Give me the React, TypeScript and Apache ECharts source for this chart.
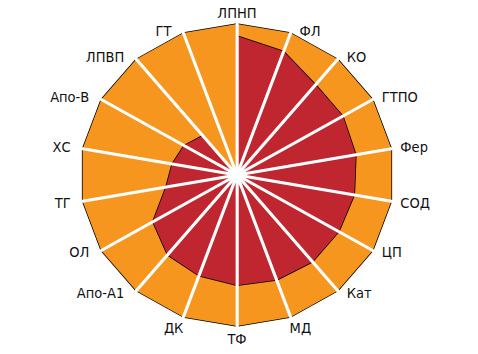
import React, { useEffect, useRef } from "react";
import * as echarts from "echarts";

// Indicators listed clockwise from the top
const categories = [
  "ЛПНП", "ФЛ", "КО", "ГТПО", "Фер", "СОД", "ЦП", "Кат", "МД",
  "ТФ", "ДК", "Апо-А1", "ОЛ", "ТГ", "ХС", "Апо-В", "ЛПВП", "ГТ",
];
const maxValues = [100, 100, 100, 100, 100, 100, 100, 100, 100, 100, 100, 100, 100, 100, 100, 100, 100, 100];
const innerValues = [92, 87, 78, 78, 77, 76, 75, 75, 74, 73, 71, 69, 62, 46, 42, 39, 34, 0];

// ECharts lays radar indicators counter-clockwise: keep first, reverse the rest
const ccw = <T,>(arr: T[]): T[] => [arr[0], ...arr.slice(1).reverse()];

const STRETCH = 1.038; // the reference is slightly wider than tall
const CX = 237 / STRETCH;
const CY = 175;
const R = 151;
const FONT = "'Liberation Sans Narrow', 'DejaVu Sans Condensed', 'Arial Narrow', sans-serif";

// Label placement rule around the polygon (derived from the radar geometry)
function labelFor(name: string, i: number, n: number) {
  const th = (i * 2 * Math.PI) / n; // clockwise from top
  const sx = Math.sin(th);
  const cy = -Math.cos(th);
  const vx = CX + R * sx;
  const vy = CY + R * cy;
  let x = vx, y = vy, align = "center";
  if (Math.abs(sx) < 0.05) {
    y = vy + (cy < 0 ? -11 : 13);
  } else if (cy > 0.9) {
    // near the bottom: under the vertex
    align = sx > 0 ? "left" : "right";
    x = vx + (sx > 0 ? -1 : 0) / STRETCH;
    y = vy + 11;
  } else {
    align = sx > 0 ? "left" : "right";
    x = vx + (sx > 0 ? 9 : -12) / STRETCH;
    y = vy + (cy < 0 ? -2 : 2);
  }
  return {
    type: "text",
    x,
    y,
    z: 10,
    style: { text: name, align, verticalAlign: "middle", fontSize: 14, fontFamily: FONT, fill: "#111" },
  };
}

export default function App() {
  const ref = useRef<HTMLDivElement>(null);
  useEffect(() => {
    if (!ref.current) return;
    const chart = echarts.init(ref.current, null, { renderer: "svg" });
    chart.setOption({
      animation: false,
      radar: {
        z: 5,
        center: [CX, CY],
        radius: R,
        startAngle: 90,
        shape: "polygon",
        indicator: ccw(categories).map((name) => ({ name, min: 0, max: 100 })),
        axisName: { show: false },
        axisLine: { show: true, lineStyle: { color: "#ffffff", width: 3 } },
        axisTick: { show: false },
        axisLabel: { show: false },
        splitLine: { show: false },
        splitArea: { show: false },
      },
      graphic: categories.map((name, i) => labelFor(name, i, categories.length)),
      series: [
        {
          type: "radar",
          z: 2,
          symbol: "none",
          data: [
            {
              value: ccw(maxValues),
              lineStyle: { color: "#000", width: 1.5 },
              areaStyle: { color: "#f7961f", opacity: 1 },
            },
            {
              value: ccw(innerValues),
              lineStyle: { color: "#000", width: 1.5 },
              areaStyle: { color: "#bf2630", opacity: 1 },
            },
          ],
        },
      ],
    });
    return () => chart.dispose();
  }, []);
  return (
    <div style={{ position: "fixed", left: 0, top: 0, width: 478, height: 354, background: "#fff", overflow: "hidden" }}>
      <div
        ref={ref}
        style={{
          width: 478 / STRETCH,
          height: 354,
          transform: `scaleX(${STRETCH})`,
          transformOrigin: "0 0",
        }}
      />
    </div>
  );
}
